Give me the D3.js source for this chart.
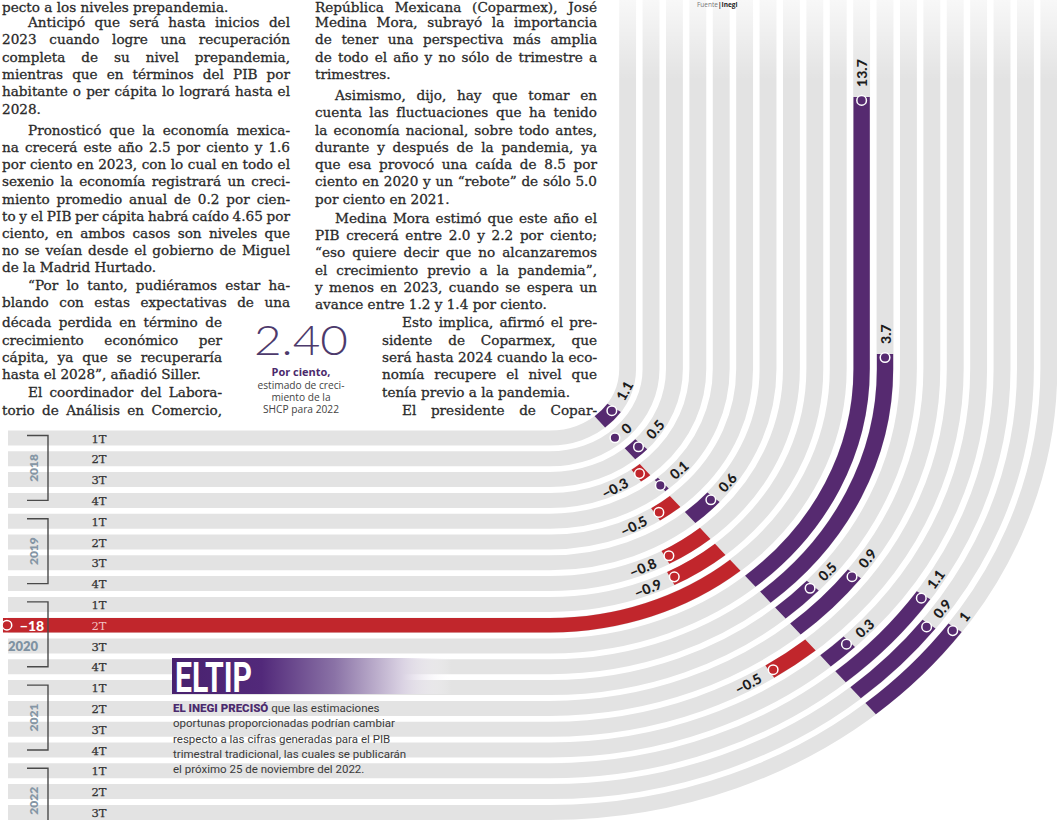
<!DOCTYPE html>
<html lang="es">
<head>
<meta charset="utf-8">
<script src="https://cdn.jsdelivr.net/npm/d3@7"></script>
<style>
  body { margin: 0; background: #fff; }
  svg { display: block; }
</style>
</head>
<body>
<svg id="chart" width="1057" height="820"></svg>
<script>
// ---- Data: quarterly GDP change (%), Mexico, 2018 1T – 2022 3T (Fuente: Inegi) ----
const years = ["2018", "2019", "2020", "2021", "2022"];
const quarterNames = ["1T", "2T", "3T", "4T"];
const periodYear = ["2018","2018","2018","2018","2019","2019","2019","2019",
                    "2020","2020","2020","2020","2021","2021","2021","2021",
                    "2022","2022","2022"];
const periodQuarter = ["1T","2T","3T","4T","1T","2T","3T","4T",
                       "1T","2T","3T","4T","1T","2T","3T","4T",
                       "1T","2T","3T"];
const growth = [1.1, 0, 0.5, -0.3, 0.1, -0.5, 0.6, -0.8,
                -0.9, -18, 13.7, 3.7, 0.5, 0.9, -0.5, 0.3,
                1.1, 0.9, 1];

// ---- Layout ----
const W = 1057, H = 820;
const cx = 550, cy = 369;          // common centre of the curved tracks
const sx = 1.125;                  // horizontal stretch of the track drawing
const zeroAngle = 40 * Math.PI / 180;
const trackWidth = 15, barWidth = 14.5;
const PURPLE = "#562a70", RED = "#c1262c", TRACK = "#e3e3e3";

const svg = d3.select("#chart");

const idx = growth.map((d, i) => i);
const radius = d3.scaleLinear().domain([0, growth.length - 1]).range([69, 69 + 20.8 * 18]);
// value -> angular offset from the zero line (broken scale for the 2020 extremes)
const angle = d3.scaleLinear()
  .domain([d3.min(growth), -4, 0, 4, d3.max(growth)])
  .range([-2.596, -0.998, 0, 0.998, 1.855]);

// position along a track: t<0 runs left along the row, 0..pi/2 is the bend, >pi/2 runs up
function pt(r, t) {
  if (t < 0) return [r * t, r];
  if (t <= Math.PI / 2) return [r * Math.sin(t), r * Math.cos(t)];
  return [r, -r * (t - Math.PI / 2)];
}
function toScreen(p) { return [cx + sx * p[0], cy + p[1]]; }
function tangentDeg(t) {
  let d;
  if (t < 0) d = [1, 0];
  else if (t <= Math.PI / 2) d = [sx * Math.cos(t), -Math.sin(t)];
  else d = [0, -1];
  return Math.atan2(d[1], d[0]) * 180 / Math.PI;
}
function trackPath(r, t0, t1) {
  const p = d3.path();
  const a = pt(r, t0);
  p.moveTo(a[0], a[1]);
  if (t0 < 0) { const b = pt(r, Math.min(t1, 0)); p.lineTo(b[0], b[1]); }
  if (t1 > 0 && t0 < Math.PI / 2) {
    const s = Math.max(t0, 0), e = Math.min(t1, Math.PI / 2);
    p.arc(0, 0, r, Math.PI / 2 - s, Math.PI / 2 - e, true);
  }
  if (t1 > Math.PI / 2) { const b = pt(r, t1); p.lineTo(b[0], b[1]); }
  return p.toString();
}

// ---- Defs ----
const defs = svg.append("defs");
const fade = defs.append("linearGradient").attr("id", "topFade")
  .attr("x1", 0).attr("y1", 0).attr("x2", 0).attr("y2", 1);
fade.append("stop").attr("offset", "0%").attr("stop-color", "#fff").attr("stop-opacity", 0.75);
fade.append("stop").attr("offset", "100%").attr("stop-color", "#fff").attr("stop-opacity", 0);
const tipGrad = defs.append("linearGradient").attr("id", "tipGrad")
  .attr("x1", 0).attr("y1", 0).attr("x2", 1).attr("y2", 0);
[["0%", "#48216e", 1], ["32%", "#52297a", 1], ["58%", "#8a72a6", 1],
 ["82%", "#d9d1e2", 1], ["100%", "#ffffff", 0]].forEach(s =>
  tipGrad.append("stop").attr("offset", s[0]).attr("stop-color", s[1]).attr("stop-opacity", s[2]));

// ---- Tracks ----
const plot = svg.append("g").attr("transform", `translate(${cx},${cy}) scale(${sx},1)`);
plot.append("g").selectAll("path").data(idx).join("path")
  .attr("d", i => {
    const r = radius(i);
    return trackPath(r, -((cx - 8) / sx) / r, Math.PI / 2 + (cy + 5) / r);
  })
  .attr("fill", "none").attr("stroke", TRACK).attr("stroke-width", trackWidth);

svg.append("rect").attr("x", 600).attr("y", 0).attr("width", W - 600).attr("height", 80)
  .attr("fill", "url(#topFade)");

// ---- Year brackets ----
const rowY = i => cy + radius(i);
const edgeIdx = growth.indexOf(d3.min(growth));
const brackets = svg.append("g");
years.forEach(y => {
  const first = periodYear.indexOf(y);
  const yTop = rowY(first) - 2.5;
  const yBot = rowY(first) + 3 * 20.8;
  brackets.append("path")
    .attr("d", `M27,${yTop}H48V${yBot}H27`)
    .attr("fill", "none").attr("stroke", "#4a4a4a").attr("stroke-width", 1.4);
  const members = idx.filter(i => periodYear[i] === y);
  if (members.includes(edgeIdx)) {
    brackets.append("text").attr("x", 23).attr("y", rowY(edgeIdx + 1) + 5)
      .attr("text-anchor", "middle").attr("font-family", "Lato, 'Open Sans', sans-serif")
      .attr("font-weight", 800).attr("font-size", 13).attr("fill", "#7f92a2").text(y);
  } else {
    const my = (yTop + yBot) / 2;
    brackets.append("text").attr("transform", `translate(38,${my}) rotate(-90)`)
      .attr("text-anchor", "middle").attr("font-family", "Lato, 'Open Sans', sans-serif")
      .attr("font-weight", 800).attr("font-size", 12).attr("fill", "#8596a5").text(y);
  }
});

// ---- Bars ----
const bars = idx.filter(i => growth[i] !== 0);
plot.append("g").selectAll("path").data(bars).join("path")
  .attr("d", i => {
    const r = radius(i), tEnd = zeroAngle + angle(growth[i]);
    return growth[i] > 0 ? trackPath(r, zeroAngle, tEnd) : trackPath(r, tEnd, zeroAngle);
  })
  .attr("fill", "none")
  .attr("stroke", i => growth[i] >= 0 ? PURPLE : RED)
  .attr("stroke-width", barWidth);

// ---- Quarter labels ----
svg.append("g").selectAll("text").data(idx).join("text")
  .attr("x", 99).attr("y", i => rowY(i) + 4.5)
  .attr("text-anchor", "middle")
  .attr("font-family", "'DejaVu Serif', serif").attr("font-size", 11.5)
  .attr("fill", i => i === edgeIdx ? "#f2c2c2" : "#333")
  .attr("stroke", i => i === edgeIdx ? "none" : "#333").attr("stroke-width", 0.25)
  .text(i => periodQuarter[i]);

// ---- End dots and value labels ----
const marks = svg.append("g");
idx.forEach(i => {
  const v = growth[i], r = radius(i);
  const tEnd = zeroAngle + angle(v);
  const sgn = v >= 0 ? 1 : -1;
  const col = v >= 0 ? PURPLE : RED;
  const tDot = v === 0 ? zeroAngle : tEnd - sgn * 3.5 / r;
  const d = toScreen(pt(r, tDot));
  marks.append("circle").attr("cx", d[0]).attr("cy", d[1]).attr("r", 4.8)
    .attr("fill", col).attr("stroke", "#fff").attr("stroke-width", 1.5);

  let tLab = tEnd + sgn * 10 / r;
  let anchor = v >= 0 ? "start" : "end";
  let fill = "#1c1c1c";
  let p = toScreen(pt(r, tLab));
  if (p[0] < 30) {            // no room past the end: write it on the bar
    tLab = tEnd + 15 / r; anchor = "start"; fill = "#fff";
    p = toScreen(pt(r, tLab));
  }
  marks.append("text")
    .attr("transform", `translate(${p[0]},${p[1]}) rotate(${tangentDeg(tLab)})`)
    .attr("text-anchor", anchor).attr("dominant-baseline", "central")
    .attr("font-family", "Lato, 'Open Sans', sans-serif").attr("font-weight", 900)
    .attr("font-size", 14).attr("fill", fill)
    .text(d3.format("~g")(v));
});

// ---- Source ----
const src = svg.append("text").attr("x", 697).attr("y", 7)
  .attr("font-family", "'Open Sans', sans-serif").attr("font-size", 6.5).attr("fill", "#777");
src.append("tspan").text("Fuente");
src.append("tspan").attr("fill", "#222").attr("font-weight", 700).text("|Inegi");

// ---- Article text ----
const L = { x0: 2, x1: 290, n1: 222, ind: 26 };
const R = { x0: 315, x1: 597, n0: 382, ind: 20 };
const leftLines = [
  ["pecto a los niveles prepandemia.", 6.5, 0, 0, 0],
  ["Anticipó que será hasta inicios del", 22, 1, 1, 0],
  ["2023 cuando logre una recuperación", 39, 0, 1, 0],
  ["completa de su nivel prepandemia,", 57, 0, 1, 0],
  ["mientras que en términos del PIB por", 74, 0, 1, 0],
  ["habitante o per cápita lo logrará hasta el", 91, 0, 1, 0],
  ["2028.", 109, 0, 0, 0],
  ["Pronosticó que la economía mexica-", 130, 1, 1, 0],
  ["na crecerá este año 2.5 por ciento y 1.6", 147, 0, 1, 0],
  ["por ciento en 2023, con lo cual en todo el", 164, 0, 1, 0],
  ["sexenio la economía registrará un creci-", 181, 0, 1, 0],
  ["miento promedio anual de 0.2 por cien-", 199, 0, 1, 0],
  ["to y el PIB per cápita habrá caído 4.65 por", 216, 0, 1, 0],
  ["ciento, en ambos casos son niveles que", 233, 0, 1, 0],
  ["no se veían desde el gobierno de Miguel", 250, 0, 1, 0],
  ["de la Madrid Hurtado.", 267, 0, 0, 0],
  ["“Por lo tanto, pudiéramos estar ha-", 285, 1, 1, 0],
  ["blando con estas expectativas de una", 302, 0, 1, 0],
  ["década perdida en término de", 322, 0, 1, 1],
  ["crecimiento económico per", 340, 0, 1, 1],
  ["cápita, ya que se recuperaría", 357, 0, 1, 1],
  ["hasta el 2028”, añadió Siller.", 374, 0, 0, 1],
  ["El coordinador del Labora-", 392, 1, 1, 1],
  ["torio de Análisis en Comercio,", 410, 0, 1, 1]
];
const rightLines = [
  ["República Mexicana (Coparmex), José", 6.5, 0, 1, 0],
  ["Medina Mora, subrayó la importancia", 22, 0, 1, 0],
  ["de tener una perspectiva más amplia", 39, 0, 1, 0],
  ["de todo el año y no sólo de trimestre a", 57, 0, 1, 0],
  ["trimestres.", 74, 0, 0, 0],
  ["Asimismo, dijo, hay que tomar en", 95, 1, 1, 0],
  ["cuenta las fluctuaciones que ha tenido", 112, 0, 1, 0],
  ["la economía nacional, sobre todo antes,", 130, 0, 1, 0],
  ["durante y después de la pandemia, ya", 147, 0, 1, 0],
  ["que esa provocó una caída de 8.5 por", 164, 0, 1, 0],
  ["ciento en 2020 y un “rebote” de sólo 5.0", 181, 0, 1, 0],
  ["por ciento en 2021.", 199, 0, 0, 0],
  ["Medina Mora estimó que este año el", 218, 1, 1, 0],
  ["PIB crecerá entre 2.0 y 2.2 por ciento;", 235, 0, 1, 0],
  ["“eso quiere decir que no alcanzaremos", 252, 0, 1, 0],
  ["el crecimiento previo a la pandemia”,", 270, 0, 1, 0],
  ["y menos en 2023, cuando se espera un", 287, 0, 1, 0],
  ["avance entre 1.2 y 1.4 por ciento.", 304, 0, 0, 0],
  ["Esto implica, afirmó el pre-", 322, 1, 1, 1],
  ["sidente de Coparmex, que", 340, 0, 1, 1],
  ["será hasta 2024 cuando la eco-", 357, 0, 1, 1],
  ["nomía recupere el nivel que", 374, 0, 1, 1],
  ["tenía previo a la pandemia.", 392, 0, 0, 1],
  ["El presidente de Copar-", 410, 1, 1, 1]
];
const body = svg.append("g").attr("font-family", "'DejaVu Serif', serif")
  .attr("font-size", 13.6).attr("fill", "#2a2a2a")
  .attr("stroke", "#2a2a2a").attr("stroke-width", 0.3);
const probe = body.append("text");
function wordWidth(w) { probe.text(w); return probe.node().getComputedTextLength(); }
function setLine(line, col, isLeft) {
  const [txt, yc, indent, justify, narrow] = line;
  let x0 = isLeft ? col.x0 : (narrow ? col.n0 : col.x0);
  const x1 = isLeft ? (narrow ? col.n1 : col.x1) : col.x1;
  if (indent) x0 += col.ind;
  const y = yc + 5;
  const t = body.append("text").attr("y", y);
  if (!justify) { t.attr("x", x0).text(txt); return; }
  const words = txt.split(" ");
  const widths = words.map(wordWidth);
  const gap = (x1 - x0 - d3.sum(widths)) / Math.max(1, words.length - 1);
  let x = x0;
  words.forEach((w, k) => {
    t.append("tspan").attr("x", x).text(w);
    x += widths[k] + gap;
  });
}
leftLines.forEach(l => setLine(l, L, true));
rightLines.forEach(l => setLine(l, R, false));
probe.remove();

// ---- Highlighted figure ----
const fig = svg.append("g").attr("text-anchor", "middle");
fig.append("text").attr("x", 301).attr("y", 355)
  .attr("font-family", "Lato, 'Open Sans', sans-serif").attr("font-weight", 300)
  .attr("font-size", 42).attr("fill", "#4d3a6c")
  .attr("textLength", 94).attr("lengthAdjust", "spacingAndGlyphs").text("2.40");
fig.append("text").attr("x", 301).attr("y", 376)
  .attr("font-family", "'Open Sans', sans-serif").attr("font-weight", 700)
  .attr("font-size", 11).attr("fill", "#4b2a6c").text("Por ciento,");
["estimado de creci-", "miento de la", "SHCP para 2022"].forEach((s, k) =>
  fig.append("text").attr("x", 301).attr("y", 388.5 + k * 12)
    .attr("font-family", "'Open Sans', sans-serif").attr("font-size", 10.2)
    .attr("fill", "#444").text(s));

// ---- EL TIP box ----
const tip = svg.append("g");
tip.append("rect").attr("x", 172).attr("y", 658).attr("width", 280).attr("height", 36)
  .attr("fill", "url(#tipGrad)");
tip.append("text").attr("x", 175).attr("y", 692)
  .attr("font-family", "Roboto, 'DejaVu Sans', sans-serif").attr("font-weight", 700)
  .attr("font-size", 42).attr("fill", "#fff")
  .attr("textLength", 77).attr("lengthAdjust", "spacingAndGlyphs").text("ELTIP");
const tipLines = [
  "que las estimaciones",
  "oportunas proporcionadas podrían cambiar",
  "respecto a las cifras generadas para el PIB",
  "trimestral tradicional, las cuales se publicarán",
  "el próximo 25 de noviembre del 2022."
];
tipLines.forEach((s, k) => {
  const t = tip.append("text").attr("x", 173).attr("y", 712 + k * 15.3)
    .attr("font-family", "Roboto, 'Open Sans', sans-serif").attr("font-size", 11.5)
    .attr("fill", "#3a3a3a");
  if (k === 0) {
    t.append("tspan").attr("font-weight", 900).attr("fill", "#4b2a6e").text("EL INEGI PRECISÓ ");
  }
  t.append("tspan").text(s);
});
</script>
</body>
</html>
